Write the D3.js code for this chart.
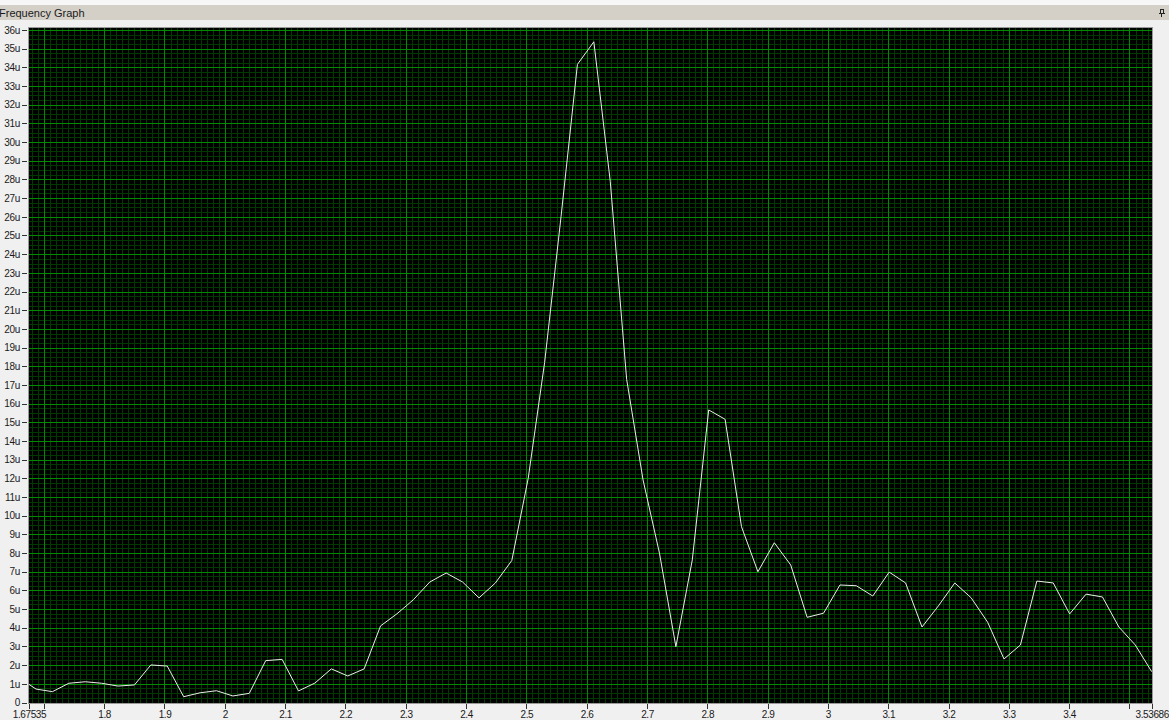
<!DOCTYPE html>
<html>
<head>
<meta charset="utf-8">
<script src="https://cdn.jsdelivr.net/npm/d3@7"></script>
<style>
  html, body { margin: 0; padding: 0; background: #f0f0f0; }
  svg { display: block; font-family: "Liberation Sans", Arial, sans-serif; }
</style>
</head>
<body>
<svg id="chart" width="1169" height="720"></svg>
<script>
// Frequency bins of the spectrum (same units as the x axis)
const frequency = [
  1.67535,
  1.68696, 1.71416, 1.74137, 1.76857, 1.79578, 1.82298, 1.85018, 1.87739, 1.90459, 1.93180,
  1.95900, 1.98620, 2.01341, 2.04061, 2.06782, 2.09502, 2.12222, 2.14943, 2.17663, 2.20384,
  2.23104, 2.25824, 2.28545, 2.31265, 2.33986, 2.36706, 2.39426, 2.42147, 2.44867, 2.47588,
  2.50308, 2.53028, 2.55749, 2.58469, 2.61190, 2.63910, 2.66630, 2.69351, 2.72071, 2.74792,
  2.77512, 2.80232, 2.82953, 2.85673, 2.88394, 2.91114, 2.93834, 2.96555, 2.99275, 3.01996,
  3.04716, 3.07436, 3.10157, 3.12877, 3.15598, 3.18318, 3.21038, 3.23759, 3.26479, 3.29200,
  3.31920, 3.34640, 3.37361, 3.40081, 3.42802, 3.45522, 3.48242, 3.50963, 3.53686
];

// Magnitude at each bin, in micro-units (u)
const magnitude = [
  0.97,
  0.72, 0.58, 1.03, 1.11, 1.03, 0.88, 0.94, 2.01, 1.95, 0.31,
  0.52, 0.63, 0.35, 0.49, 2.24, 2.31, 0.62, 1.04, 1.80, 1.42,
  1.80, 4.10, 4.75, 5.50, 6.45, 6.93, 6.45, 5.60, 6.40, 7.60,
  12.0, 18.2, 26.0, 34.16, 35.37, 27.9, 17.3, 11.91, 7.99, 2.99,
  7.63, 15.66, 15.16, 9.41, 7.00, 8.55, 7.36, 4.56, 4.78, 6.29,
  6.25, 5.70, 6.98, 6.40, 4.04, 5.17, 6.40, 5.60, 4.30, 2.33,
  3.08, 6.50, 6.40, 4.74, 5.80, 5.65, 4.04, 3.08, 1.65
];

// Axis ticks
const xTickValues = [1.67535, 1.7, 1.8, 1.9, 2.0, 2.1, 2.2, 2.3, 2.4, 2.5, 2.6, 2.7, 2.8,
                     2.9, 3.0, 3.1, 3.2, 3.3, 3.4, 3.5, 3.53686];
const xTickLabels = ["1.67535", "", "1.8", "1.9", "2", "2.1", "2.2", "2.3", "2.4", "2.5", "2.6",
                     "2.7", "2.8", "2.9", "3", "3.1", "3.2", "3.3", "3.4", "", "3.53686"];
const yTickValues = [0, 1, 2, 3, 4, 5, 6, 7, 8, 9, 10, 11, 12, 13, 14, 15, 16, 17, 18,
                     19, 20, 21, 22, 23, 24, 25, 26, 27, 28, 29, 30, 31, 32, 33, 34, 35, 36];
const yTickLabels = ["0", "1u", "2u", "3u", "4u", "5u", "6u", "7u", "8u", "9u", "10u", "11u",
                     "12u", "13u", "14u", "15u", "16u", "17u", "18u", "19u", "20u", "21u",
                     "22u", "23u", "24u", "25u", "26u", "27u", "28u", "29u", "30u", "31u",
                     "32u", "33u", "34u", "35u", "36u"];

const title = "Frequency Graph";

const W = 1169, H = 720;
const plot = { left: 29, right: 1152, top: 28, bottom: 703 };

const svg = d3.select("#chart");

// Window chrome: thin strip, title bar, pin glyph
svg.append("rect").attr("x", 0).attr("y", 0).attr("width", W).attr("height", H).attr("fill", "#f0f0f0");
svg.append("rect").attr("x", 0).attr("y", 0).attr("width", W).attr("height", 5).attr("fill", "#f7f7f7");
svg.append("rect").attr("x", 0).attr("y", 5).attr("width", W).attr("height", 15).attr("fill", "#d4d0c8");
svg.append("text").attr("x", -1).attr("y", 16.5).attr("font-size", 11).attr("fill", "#1a1a1a").text(title);
const pin = svg.append("g").attr("stroke", "#222").attr("stroke-width", 1).attr("fill", "none")
  .attr("shape-rendering", "crispEdges");
pin.append("rect").attr("x", 1160.5).attr("y", 9.5).attr("width", 3).attr("height", 4);
pin.append("line").attr("x1", 1159).attr("x2", 1165).attr("y1", 13.5).attr("y2", 13.5);
pin.append("line").attr("x1", 1161.5).attr("x2", 1161.5).attr("y1", 13.5).attr("y2", 17);

// Scales
const x = d3.scaleLinear().domain([1.67535, 3.53686]).range([plot.left, plot.right - 0.3]);
const y = d3.scaleLinear().domain([0, 36]).range([702.5, 30]);

// Plot background
svg.append("rect")
  .attr("x", plot.left).attr("y", plot.top)
  .attr("width", plot.right - plot.left).attr("height", plot.bottom - plot.top)
  .attr("fill", "#000");

svg.append("clipPath").attr("id", "plotClip").append("rect")
  .attr("x", plot.left).attr("y", plot.top)
  .attr("width", plot.right - plot.left).attr("height", plot.bottom - plot.top);

const grid = svg.append("g").attr("clip-path", "url(#plotClip)").attr("shape-rendering", "crispEdges");
const snap = v => Math.round(v) + 0.5;

// Minor grid: every 0.01 on x, every 0.25u on y
const minorX = d3.range(168, 354).map(i => i / 100);
const minorY = d3.range(0, 145).map(i => i / 4);
grid.selectAll("line.mx").data(minorX).join("line").attr("class", "mx")
  .attr("x1", d => snap(x(d))).attr("x2", d => snap(x(d)))
  .attr("y1", plot.top).attr("y2", plot.bottom)
  .attr("stroke", "#003a00");
grid.selectAll("line.my").data(minorY).join("line").attr("class", "my")
  .attr("x1", plot.left).attr("x2", plot.right)
  .attr("y1", d => snap(y(d))).attr("y2", d => snap(y(d)))
  .attr("stroke", "#003a00");

// Major grid on the tick values
grid.selectAll("line.gx").data(xTickValues.slice(1, -1)).join("line").attr("class", "gx")
  .attr("x1", d => snap(x(d))).attr("x2", d => snap(x(d)))
  .attr("y1", plot.top).attr("y2", plot.bottom)
  .attr("stroke", "#008a00");
grid.selectAll("line.gy").data(yTickValues).join("line").attr("class", "gy")
  .attr("x1", plot.left).attr("x2", plot.right)
  .attr("y1", d => snap(y(d))).attr("y2", d => snap(y(d)))
  .attr("stroke", "#008a00");

// Spectrum trace
const line = d3.line().x((d, i) => x(frequency[i])).y(d => y(d));
svg.append("g").attr("clip-path", "url(#plotClip)")
  .append("path")
  .datum(magnitude)
  .attr("d", line)
  .attr("fill", "none")
  .attr("stroke", "#ececec")
  .attr("stroke-width", 1);

// Plot frame
svg.append("rect")
  .attr("x", plot.left - 0.5).attr("y", plot.top - 0.5)
  .attr("width", plot.right - plot.left + 1).attr("height", plot.bottom - plot.top + 1)
  .attr("fill", "none").attr("stroke", "#9a9a9a").attr("shape-rendering", "crispEdges");

// Y axis
const yAxis = d3.axisLeft(y)
  .tickValues(yTickValues)
  .tickFormat((d, i) => yTickLabels[i])
  .tickSize(5)
  .tickPadding(2);
const yG = svg.append("g").attr("transform", `translate(${plot.left - 2},0)`).call(yAxis);
yG.select(".domain").remove();
yG.selectAll(".tick line").attr("stroke", "#333").attr("shape-rendering", "crispEdges");
yG.selectAll(".tick text").attr("font-size", 10).attr("letter-spacing", -0.3).attr("fill", "#1a1a1a")
  .attr("font-family", "Liberation Sans, Arial, sans-serif");

// X axis
const xAxis = d3.axisBottom(x)
  .tickValues(xTickValues)
  .tickFormat((d, i) => xTickLabels[i])
  .tickSize(5)
  .tickPadding(2);
const xG = svg.append("g").attr("transform", `translate(0,${plot.bottom + 1})`).call(xAxis);
xG.select(".domain").remove();
xG.selectAll(".tick line").attr("stroke", "#333").attr("shape-rendering", "crispEdges");
xG.selectAll(".tick text").attr("font-size", 10).attr("letter-spacing", -0.4).attr("fill", "#1a1a1a")
  .attr("font-family", "Liberation Sans, Arial, sans-serif");
</script>
</body>
</html>
